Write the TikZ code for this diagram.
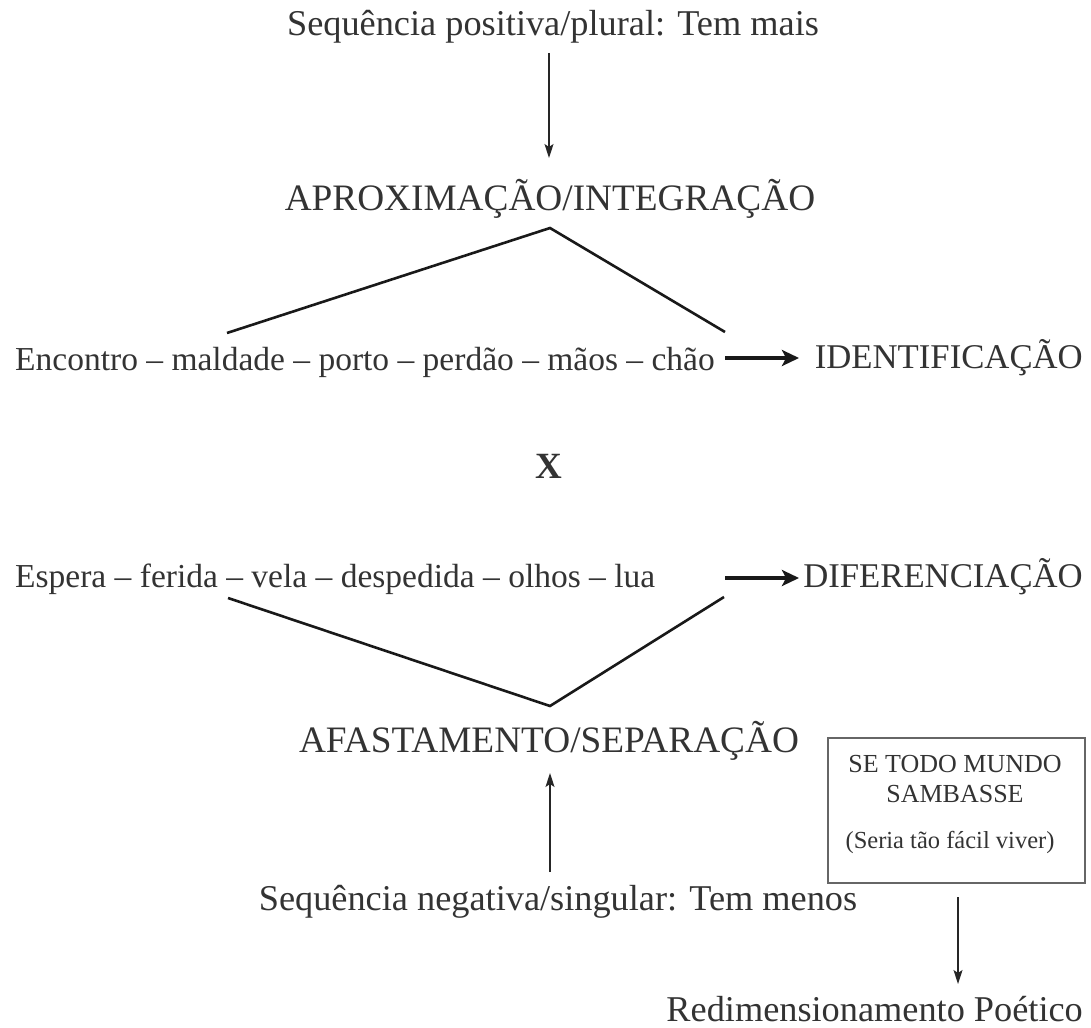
\documentclass[tikz,border=0pt]{standalone}
\usepackage{fontspec}
\setmainfont{Liberation Serif}
\usetikzlibrary{arrows.meta}
\begin{document}
\begin{tikzpicture}[x=1pt,y=-1pt,
  lbl/.style={inner sep=0pt, text=black!80},
  seqtxt/.style={lbl, font=\fontsize{36.3}{38}\selectfont},
  listtxt/.style={lbl, font=\fontsize{33.5}{36}\selectfont},
  captxt/.style={lbl, font=\fontsize{37.3}{40}\selectfont},
  sidetxt/.style={lbl, font=\fontsize{34.7}{38}\selectfont},
  thinarrow/.style={draw=black!85, line width=1.3pt, -{Stealth[length=14pt,width=9pt,inset=3pt]}},
  thickarrow/.style={draw=black!90, line width=3.5pt, -{Stealth[length=17pt,width=16pt,inset=4pt]}},
  vline/.style={draw=black!90, line width=2.6pt}]
\useasboundingbox (0,0) rectangle (1091,1027);
% top
\node[seqtxt, anchor=base] (top) at (553,36) {Sequência positiva/plural: Tem mais};
\node[captxt, anchor=base] (aprox) at (550,210) {APROXIMAÇÃO/INTEGRAÇÃO};
\coordinate (a1) at (549,53);
\coordinate (a2) at (549,158);
\draw[thinarrow] (a1) -- (a2);
\coordinate (apexT) at (550,228);
\coordinate (lT) at (227,333);
\coordinate (rT) at (725,332);
\draw[vline] (lT) -- (apexT) -- (rT);
\node[listtxt, anchor=base west] (enc) at (15,370) {Encontro – maldade – porto – perdão – mãos – chão};
\node[sidetxt, anchor=base east] (ident) at (1083,368) {IDENTIFICAÇÃO};
\coordinate (i1) at (725,358);
\coordinate (i2) at (799,358);
\draw[thickarrow] (i1) -- (i2);
% X
\node[lbl, font=\fontsize{37}{40}\selectfont\bfseries, anchor=base] (x) at (549,478) {X};
% bottom
\node[listtxt, anchor=base west] (esp) at (15,587) {Espera – ferida – vela – despedida – olhos – lua};
\node[sidetxt, anchor=base east] (dif) at (1083,587) {DIFERENCIAÇÃO};
\coordinate (d1) at (725,578);
\coordinate (d2) at (799,578);
\draw[thickarrow] (d1) -- (d2);
\coordinate (lB) at (228,598);
\coordinate (apexB) at (550,706);
\coordinate (rB) at (724,597);
\draw[vline] (lB) -- (apexB) -- (rB);
\node[captxt, anchor=base] (afast) at (549,752) {AFASTAMENTO/SEPARAÇÃO};
\node[seqtxt, anchor=base] (neg) at (558,910) {Sequência negativa/singular: Tem menos};
\coordinate (b1) at (550,872);
\coordinate (b2) at (550,773);
\draw[thinarrow] (b1) -- (b2);
% box
\node[draw=black!60, line width=1.3pt, minimum width=257pt, minimum height=145pt, inner sep=0pt] (box) at (956.5,810.5) {};
\node[lbl, font=\fontsize{26}{28}\selectfont, anchor=base] (se) at (955,772) {SE TODO MUNDO};
\node[lbl, font=\fontsize{26}{28}\selectfont, anchor=base] (samba) at (955,802) {SAMBASSE};
\node[lbl, font=\fontsize{24.5}{27}\selectfont, anchor=base] (seria) at (950,848) {(Seria tão fácil viver)};
\node[seqtxt, anchor=base east] (redim) at (1083,1021) {Redimensionamento Poético};
\coordinate (r1) at (958,897);
\coordinate (r2) at (958,984);
\draw[thinarrow] (r1) -- (r2);
\end{tikzpicture}
\end{document}
